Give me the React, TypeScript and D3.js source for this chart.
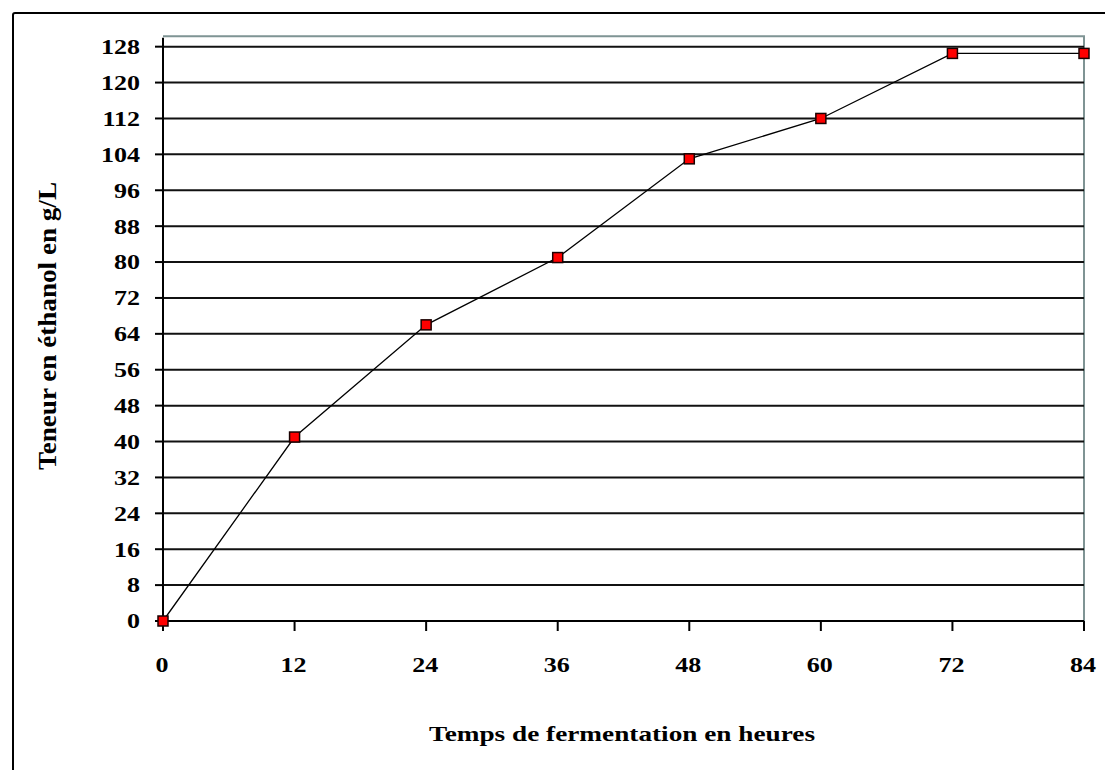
import React from "react";
import * as d3 from "d3";

// Fermentation time (hours) and ethanol content (g/L)
const hours = [0, 12, 24, 36, 48, 60, 72, 84];
const ethanol = [0, 41, 66, 81, 103, 112, 126.5, 126.5];

const xTickValues = [0, 12, 24, 36, 48, 60, 72, 84];
const yTickValues = [0, 8, 16, 24, 32, 40, 48, 56, 64, 72, 80, 88, 96, 104, 112, 120, 128];

const xTitle = "Temps de fermentation en heures";
const yTitle = "Teneur en éthanol en g/L";

const W = 1105;
const H = 770;
const plot = { left: 163, right: 1084, top: 37.7, bottom: 621 };
const FONT = "'Liberation Serif', 'Times New Roman', serif";

export default function App() {
  const x = d3.scaleLinear().domain([0, 84]).range([plot.left, plot.right]);
  const y = d3.scaleLinear().domain([0, 130]).range([plot.bottom, plot.top]);

  const points = hours.map((h, i) => [h, ethanol[i]] as [number, number]);
  const line = d3
    .line<[number, number]>()
    .x((d) => x(d[0]))
    .y((d) => y(d[1]));

  const sx = 1.24; // horizontal stretch of labels

  return (
    <div style={{ position: "fixed", left: 0, top: 0 }}>
      <svg width={W} height={H} style={{ display: "block", background: "#fff" }}>
        {/* chart frame */}
        <rect x={13} y={13} width={1200} height={1000} rx={2} fill="#fff" stroke="#000" strokeWidth={2} />

        {/* plot area border (top and right) */}
        <path
          d={`M${plot.left},${plot.top - 1.5} H${plot.right} V${plot.bottom}`}
          fill="none"
          stroke="#7f9494"
          strokeWidth={2}
        />

        {/* horizontal gridlines */}
        {yTickValues.map((v) => (
          <line key={`g${v}`} x1={plot.left} x2={plot.right} y1={y(v)} y2={y(v)} stroke="#111" strokeWidth={2} />
        ))}

        {/* y axis */}
        <line x1={plot.left} x2={plot.left} y1={plot.top} y2={plot.bottom + 10} stroke="#000" strokeWidth={2} />
        {yTickValues.map((v) => (
          <line key={`yt${v}`} x1={plot.left - 8} x2={plot.left} y1={y(v)} y2={y(v)} stroke="#000" strokeWidth={2} />
        ))}
        {yTickValues.map((v) => (
          <g key={`yl${v}`} transform={`translate(140,${y(v)}) scale(${sx},1)`}>
            <text
              textAnchor="end"
              dy="0.35em"
              fontFamily={FONT}
              fontWeight="bold"
              fontSize={21}
              fill="#000"
            >
              {v}
            </text>
          </g>
        ))}

        {/* x axis */}
        <line x1={plot.left} x2={plot.right} y1={plot.bottom} y2={plot.bottom} stroke="#000" strokeWidth={2} />
        {xTickValues.map((v) => (
          <line key={`xt${v}`} x1={x(v)} x2={x(v)} y1={plot.bottom} y2={plot.bottom + 10} stroke="#000" strokeWidth={2} />
        ))}
        {xTickValues.map((v) => (
          <g key={`xl${v}`} transform={`translate(${x(v) - 1},672) scale(${sx},1)`}>
            <text textAnchor="middle" fontFamily={FONT} fontWeight="bold" fontSize={21} fill="#000">
              {v}
            </text>
          </g>
        ))}

        {/* data line */}
        <path d={line(points) || ""} fill="none" stroke="#000" strokeWidth={1.3} />

        {/* markers */}
        {points.map((p, i) => (
          <rect
            key={`m${i}`}
            x={x(p[0]) - 5}
            y={y(p[1]) - 5}
            width={10}
            height={10}
            fill="#ff0000"
            stroke="#1a0000"
            strokeWidth={1.5}
          />
        ))}

        {/* axis titles */}
        <text
          x={622}
          y={741}
          textAnchor="middle"
          fontFamily={FONT}
          fontWeight="bold"
          fontSize={22}
          textLength={386}
          lengthAdjust="spacingAndGlyphs"
          fill="#000"
        >
          {xTitle}
        </text>
        <g transform={`translate(56,326) scale(${sx},1) rotate(-90)`}>
          <text
            x={0}
            y={0}
            textAnchor="middle"
            fontFamily={FONT}
            fontWeight="bold"
            fontSize={21}
            textLength={288}
            lengthAdjust="spacingAndGlyphs"
            fill="#000"
          >
            {yTitle}
          </text>
        </g>
      </svg>
    </div>
  );
}
